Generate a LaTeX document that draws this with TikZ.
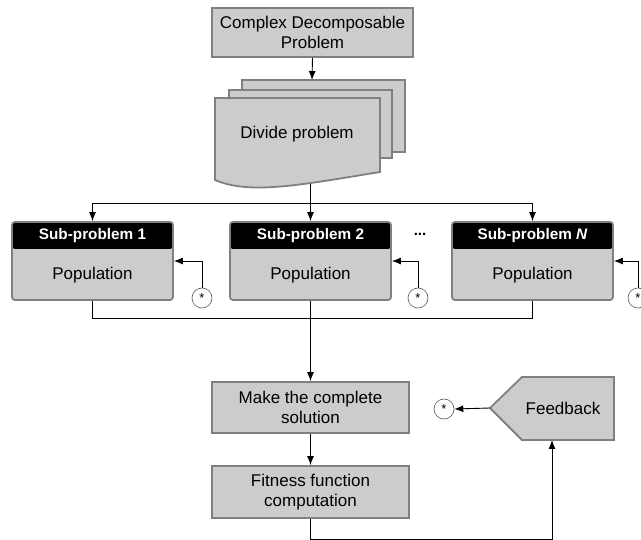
\documentclass[tikz,border=0pt]{standalone}
\usepackage{fontspec}
\setmainfont{Liberation Sans}
\usetikzlibrary{arrows.meta}
\definecolor{boxfill}{HTML}{CCCCCC}
\definecolor{boxline}{HTML}{808080}
\begin{document}
\begin{tikzpicture}[x=1pt,y=-1pt,
  box/.style={draw=boxline, line width=1.8pt, fill=boxfill, font=\fontsize{17}{20}\selectfont, align=center, inner sep=0pt},
  txt/.style={font=\fontsize{17}{20}\selectfont, align=center, inner sep=0pt},
  arr/.style={-{Latex[length=9pt,width=7pt]}, line width=0.9pt},
  con/.style={line width=0.9pt},
  star/.style={circle, draw=black!65, line width=0.6pt, fill=white, minimum size=20pt, inner sep=0pt, font=\fontsize{13}{13}\selectfont},
  subbox/.style={box, rounded corners=3pt, minimum width=161pt, minimum height=78pt,
    path picture={\fill[black] (path picture bounding box.north west) rectangle ([yshift=-27pt]path picture bounding box.north east);}},
  head/.style={text=white, font=\fontsize{15.3}{15}\selectfont\bfseries, inner sep=0pt}
]
\useasboundingbox (0,0) rectangle (641,540);

% top box
\node[box, minimum width=201pt, minimum height=49pt] (cdp) at (312.5,32.5) {Complex Decomposable\\Problem};

% divide problem (multi-document)
\path[box] (242,80) rectangle (405,152);
\path[box] (229,90) rectangle (392,158);
\path[box] (215,98) -- (380,98) -- (380,172) .. controls (300,185) and (250,195) .. (215,180) -- cycle;
\node[txt] (div) at (297,134) {Divide problem};
\coordinate (divtop) at (312,80);
\draw[arr] (cdp.south) -- (divtop);

% sub-problem boxes
\node[subbox] (sp1) at (92.5,261) {};
\node[subbox] (sp2) at (310.5,261) {};
\node[subbox] (spN) at (532.5,261) {};
\node[head] (h1) at (92.5,236) {Sub-problem 1};
\node[head] (h2) at (310.5,236) {Sub-problem 2};
\node[head] (hN) at (532.5,236) {Sub-problem \textit{N}};
\node[txt] (p1) at (92.5,275) {Population};
\node[txt] (p2) at (310.5,275) {Population};
\node[txt] (pN) at (532.5,275) {Population};
\node[font=\fontsize{15}{15}\selectfont\bfseries, inner sep=0pt] (dots) at (420,234) {...};

% split lines
\coordinate (divbot) at (310.5,184);
\coordinate (t) at (310.5,203);
\draw[con] (divbot) -- (t);
\draw[con] (sp1.north |- t) -- (spN.north |- t);
\draw[arr] (sp1.north |- t) -- (sp1.north);
\draw[arr] (t) -- (sp2.north);
\draw[arr] (spN.north |- t) -- (spN.north);

% star feedback inputs
\node[star] (s1) at (202,298) {\raisebox{-3.5pt}{*}};
\node[star] (s2) at (418,298) {\raisebox{-3.5pt}{*}};
\node[star] (sN) at (638,298) {\raisebox{-3.5pt}{*}};
\draw[arr] (s1.north) |- (sp1.east);
\draw[arr] (s2.north) |- (sp2.east);
\draw[arr] (sN.north) |- (spN.east);

% merge lines
\coordinate (m) at (310.5,318);
\draw[con] (sp1.south) -- (sp1.south |- m) -- (spN.south |- m) -- (spN.south);

% lower boxes
\node[box, minimum width=197pt, minimum height=51pt] (make) at (310.5,407.5) {Make the complete\\solution};
\node[box, minimum width=197pt, minimum height=52pt] (fit) at (310.5,492) {Fitness function\\computation};
\draw[arr] (sp2.south) -- (make.north);
\draw[arr] (make.south) -- (fit.north);

% feedback
\path[box] (490,408) -- (522,377) -- (614,377) -- (614,440) -- (522,440) -- cycle;
\node[txt] (fb) at (563,408) {Feedback};
\coordinate (fbtip) at (490,408);
\coordinate (fbbot) at (552,440);
\node[star] (sf) at (444,409) {\raisebox{-3.5pt}{*}};
\draw[arr] (fbtip) -- (sf.east);
\draw[arr] (fit.south) -- ++(0,21) -| (fbbot);
\end{tikzpicture}
\end{document}
